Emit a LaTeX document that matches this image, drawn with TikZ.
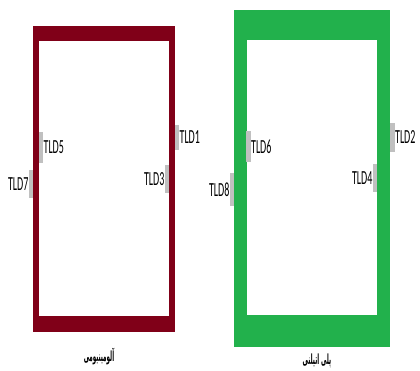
\documentclass[tikz,border=0pt]{standalone}
\usepackage{fontspec}
\usetikzlibrary{positioning}
\TeXXeTstate=1
\newfontfamily\tldfont[FakeStretch=0.5]{Carlito}
\newfontfamily\arabicfont[Script=Arabic,FakeStretch=0.4]{DejaVu Sans}
\definecolor{aluRed}{RGB}{128,0,24}
\definecolor{polyGreen}{RGB}{34,177,76}
\definecolor{gaugeGray}{RGB}{192,192,192}
\tikzset{
	gauge/.style={
		rectangle,
		fill=gaugeGray,
		inner sep=0pt,
		minimum width=4.5pt,
		label distance=1pt,
	},
	tld/.style={
		font=\tldfont\fontsize{20}{20}\selectfont,
		inner sep=0pt,
	},
	caption/.style={
		font=\arabicfont\bfseries\fontsize{14}{14}\selectfont,
		inner sep=0pt,
	}
}

\begin{document}
\begin{tikzpicture}[x=1pt,y=-1pt,every label/.style={tld}]
	\useasboundingbox (0,0) rectangle (420,370);

	% aluminium frame
	\fill[aluRed] (33,26) rectangle (175,332);
	\fill[white] (39,41) rectangle (169,316);
	% polyethylene frame
	\fill[polyGreen] (234,10) rectangle (390,347);
	\fill[white] (247,40) rectangle (377,315);

	\node [
      gauge,
      minimum height=25pt,
      label=right:TLD1
    ] (g1) at (177,137.5) {};
	\node [
      gauge,
      minimum height=28pt,
      label=left:TLD3
    ] (g3) at (167,179) {};
	\node [
      gauge,
      minimum height=31pt,
      label=right:TLD5
    ] (g5) at (41,147.5) {};
	\node [
      gauge,
      minimum height=28pt,
      label=left:TLD7
    ] (g7) at (31,184) {};

	\node [
      gauge,
      minimum height=29pt,
      label=right:TLD2
    ] (g2) at (392.5,137.5) {};
	\node [
      gauge,
      minimum height=28pt,
      label=left:TLD4
    ] (g4) at (375,178) {};
	\node [
      gauge,
      minimum height=31pt,
      label=right:TLD6
    ] (g6) at (248.5,146.5) {};
	\node [
      gauge,
      minimum height=33pt,
      label=left:TLD8
    ] (g8) at (232,189.5) {};

	\node [caption] (alu) at (99,357) {\beginR آلومینیومی\endR};
	\node [caption] (poly) at (317,361) {\beginR پلی اتیلنی\endR};
\end{tikzpicture}
\end{document}
